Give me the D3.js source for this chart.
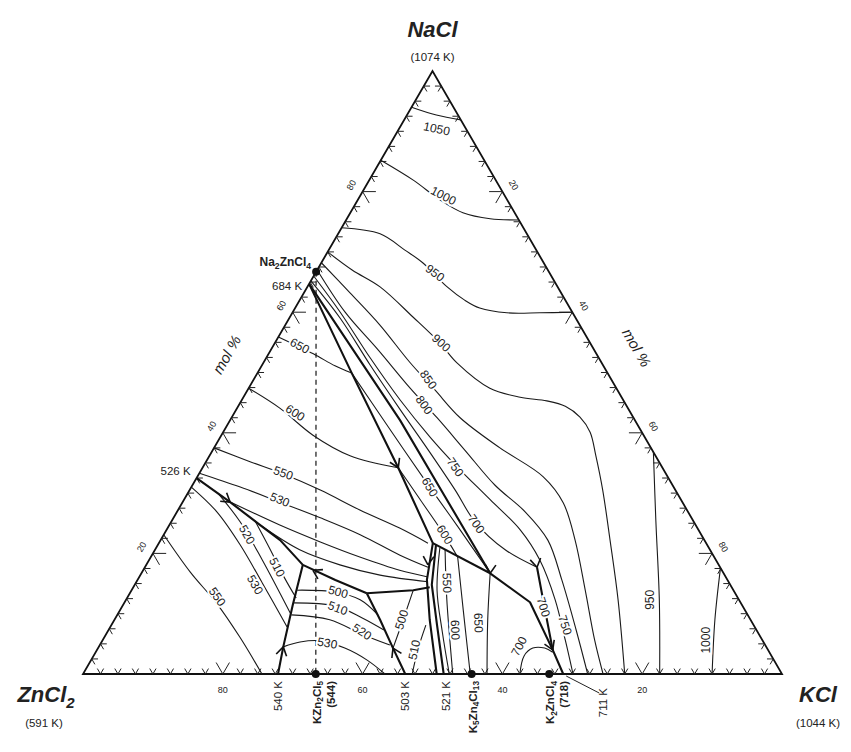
<!DOCTYPE html>
<html><head><meta charset="utf-8">
<script src="https://cdn.jsdelivr.net/npm/d3@7"></script>
<style>
body{margin:0;background:#fff}
svg text{font-family:"Liberation Sans",Arial,Helvetica,sans-serif;fill:#222}
</style></head><body>
<svg id="chart" width="851" height="752"></svg>
<script>
// Compositions are [NaCl mol%, KCl mol%]; ZnCl2 = 100 - NaCl - KCl.

// Liquidus isotherms (K)
const isotherms = [
  {T:1050, pts:[[94.0,0],[92.7,4.2],[91.9,8.1]]},
  {T:1000, pts:[[85.2,0],[81.9,6.3],[78.6,11.8],[76.5,16.1],[75.5,20.5],[75.3,24.7]]},
  {T:950,  pts:[[74.0,0],[73.0,6.0],[70.3,10.9],[68.2,14.5],[64.2,20.0],[62.0,23.6],[60.7,26.4],[59.9,30.7],[59.9,35.4],[60.0,40.0]]},
  {T:900,  pts:[[70.0,0],[67.0,5.0],[64.2,10.4],[59.2,17.6],[54.9,23.6],[51.6,27.7],[47.4,34.5],[45.9,39.6],[45.3,43.7],[44.4,46.8],[42.6,49.8],[40.1,52.5],[36.3,55.2],[30.5,59.1],[22.2,64.3],[12.3,70.4],[0,77.5]]},
  {T:850,  pts:[[68.2,0],[63.2,6.6],[57.9,13.5],[51.7,20.9],[47.1,26.8],[42.5,32.7],[37.5,40.9],[32.7,49.5],[28.4,54.5],[22.2,59.3],[13.9,64.9],[5.6,70.4],[0,74.4]]},
  {T:800,  pts:[[67.0,0],[60.0,7.5],[53.7,15.4],[47.4,23.1],[42.5,29.4],[37.1,36.1],[31.3,43.3],[26.9,49.8],[22.2,55.4],[15.6,60.7],[7.3,66.9],[0,72.2]]},
  {T:750,  pts:[[66.0,0],[60.0,6.8],[52.4,14.9],[45.4,22.7],[39.3,30.0],[34.7,35.9],[28.9,43.8],[23.9,50.6],[18.9,55.9],[12.3,61.4],[5.6,66.2],[0,70.1]]},
  {T:700,  pts:[[65.2,0],[59.0,7.3],[51.2,15.5],[43.8,23.5],[36.8,31.2],[30.5,38.0],[25.2,43.5],[20.6,50.1],[17.7,56.1]]},
  {T:950,  pts:[[36.8,63.2],[25.5,69.2],[12.3,76.3],[0,82.5]]},
  {T:1000, pts:[[17.6,82.4],[9.0,85.9],[0,90.0]]},
  // Na2ZnCl4 field
  {T:650,  pts:[[55.9,0],[53.1,6.4],[51.1,10.5],[49.9,13.5]]},
  {T:600,  pts:[[47.4,0],[44.1,6.1],[39.6,13.1],[36.2,20.1],[34.2,28.0]]},
  {T:550,  pts:[[37.5,0],[35.2,6.3],[33.2,12.0],[30.5,18.7],[27.2,26.0],[24.2,33.2],[21.7,38.5]]},
  {T:530,  pts:[[33.3,0],[31.0,7.0],[28.5,13.9],[25.9,21.0],[23.1,28.1],[19.7,35.5],[17.7,40.5]]},
  {T:520,  pts:[[28.4,7.1],[24.7,15.8],[21.9,23.0],[19.4,29.9],[17.2,36.7],[16.1,41.3]]},
  {T:510,  pts:[[24.7,13.0],[20.6,20.7],[18.1,27.7],[16.4,34.3],[15.3,41.7]]},
  // K2ZnCl4 valley between the two upper boundaries
  {T:650,  pts:[[49.9,13.5],[40.5,23.7],[31.0,34.1],[23.9,42.0],[16.7,49.9]]},
  {T:600,  pts:[[34.2,28.0],[28.9,33.8],[23.4,39.8],[19.4,43.9]]},
  // ZnCl2 field
  {T:550,  pts:[[23.1,0],[16.9,6.9],[11.6,13.4],[6.0,19.5],[0,25.6]]},
  {T:530,  pts:[[31.0,0],[26.9,5.7],[21.4,11.8],[15.1,18.1],[7.8,25.3]]},
  {T:520,  pts:[[30.0,4.3],[25.2,9.9],[18.9,16.2],[10.1,24.6]]},
  {T:510,  pts:[[25.4,11.9],[20.6,16.5],[15.9,20.9],[12.6,24.2]]},
  // KZn2Cl5 field
  {T:500,  pts:[[13.9,23.7],[13.6,29.3],[12.3,33.5],[9.8,37.3]]},
  {T:510,  pts:[[11.8,24.3],[11.3,30.4],[9.3,35.3],[7.3,39.4]]},
  {T:520,  pts:[[9.8,24.9],[9.0,30.8],[6.6,36.6],[4.8,41.5]]},
  {T:530,  pts:[[4.5,26.4],[5.3,28.4],[5.5,31.2],[4.3,35.3],[2.3,39.5],[0,43.2]]},
  // K5Zn4Cl13 / K2ZnCl4 region
  {T:500,  pts:[[13.9,40.3],[9.0,41.3],[4.3,42.2]]},
  {T:510,  pts:[[8.1,45.0],[4.0,45.9],[0,47.1]]},
  {T:550,  pts:[[20.6,41.5],[12.3,45.9],[0,52.9]]},
  {T:550,  pts:[[20.9,40.6],[13.9,43.7],[7.0,47.9],[0,52.4]]},
  {T:600,  pts:[[19.4,43.9],[10.6,49.1],[0,55.4]]},
  {T:650,  pts:[[16.7,49.9],[9.0,53.4],[0,57.8]]},
  {T:700,  pts:[[0,62.5],[3.0,61.6],[4.3,62.2],[4.3,63.9],[3.6,65.4]]}
];

// Univariant boundary lines between primary crystallisation fields
const boundaries = [
  [[64.7,0],[49.9,13.5],[34.2,28.0],[21.7,39.2]],
  [[64.7,0],[42.1,24.3],[29.4,37.1],[16.7,49.9],[11.9,58.0],[4.0,65.2],[0,68.7]],
  [[21.7,39.2],[16.7,49.9]],
  [[17.7,56.1],[10.6,60.8],[4.0,65.2]],
  [[32.5,0],[28.5,6.8],[24.7,13.0],[22.2,17.1],[18.1,22.4]],
  [[18.1,22.4],[11.4,24.3],[4.5,26.4],[0,27.9]],
  [[18.1,22.4],[15.6,28.3],[13.4,33.9]],
  [[13.4,33.9],[9.0,38.0],[4.3,42.2],[0,46.1]],
  [[13.4,33.9],[13.9,40.3],[14.4,42.4]],
  [[21.7,39.2],[15.6,41.4],[9.0,45.1],[0,50.6]],
  [[21.4,39.8],[14.8,42.5],[8.1,46.6],[0,51.6]]
];

// Arrows on boundaries: [tip, point ahead]
const arrows = [
  [[28.5,6.8],[24.7,13.0]],
  [[4.5,26.4],[11.4,24.3]],
  [[17.2,24.3],[18.1,22.4]],
  [[4.3,42.2],[13.4,33.9]],
  [[34.2,28.0],[21.7,39.2]],
  [[16.7,49.9],[9.0,53.4]],
  [[17.7,56.1],[10.6,60.8]],
  [[4.0,65.2],[0,68.7]],
  [[18.1,40.3],[15.6,41.4]]
];

// Isotherm label placement: text, composition, angle
const isoLabels = [
  ["1050",[90.4,5.4],12],["1000",[79.3,11.9],27],["950",[66.5,17.1],37],
  ["900",[54.9,23.8],42],["850",[48.8,25.0],55],["800",[44.6,26.5],55],
  ["750",[34.3,36.1],55],["650",[31.0,34.1],60],["600",[23.1,40.2],58],
  ["700",[24.9,43.8],55],["700",[11.1,60.3],72],["750",[8.1,64.9],72],
  ["700",[4.6,60.1],-62],["950",[12.3,75.0],-90],["1000",[5.6,86.3],-90],
  ["650",[54.4,3.8],28],["600",[43.3,8.7],33],["550",[33.3,12.0],20],
  ["530",[28.9,13.7],22],["520",[23.1,11.9],60],["510",[17.7,18.9],63],
  ["530",[14.8,17.2],60],["550",[12.8,12.8],55],["500",[13.6,29.7],15],
  ["510",[10.9,31.0],20],["520",[7.0,36.4],33],["530",[5.1,32.4],10],
  ["500",[9.0,41.1],-72],["510",[4.0,45.4],-78],["550",[15.1,44.5],88],
  ["600",[7.3,49.6],88],["650",[8.5,52.3],88]
];

// Compounds
const compounds = [
  {name:["Na","2","ZnCl","4"], comp:[66.7,0]},
  {name:["KZn","2","Cl","5"], comp:[0,33.3], tm:"(544)"},
  {name:["K","5","Zn","4","Cl","13"], comp:[0,55.6]},
  {name:["K","2","ZnCl","4"], comp:[0,66.7], tm:"(718)"}
];

// Binary invariant points on the ZnCl2-KCl edge (KCl mol%)
const edgePoints = [["540 K",27.9],["503 K",46.1],["521 K",52.0]];
const axisTicks = [20,40,60,80];

const sx = d3.scaleLinear().domain([0,100]).range([83,782]);
const sy = d3.scaleLinear().domain([0,100]).range([674,71]);
const P = c => [sx(c[1] + c[0]/2), sy(c[0])];

const svg = d3.select("#chart");
const straight = d3.line().x(d=>P(d)[0]).y(d=>P(d)[1]);
const smooth = d3.line().x(d=>P(d)[0]).y(d=>P(d)[1]).curve(d3.curveCatmullRom.alpha(0.5));

// triangle frame
svg.append("path")
  .attr("d", straight([[0,0],[0,100],[100,0],[0,0]]) + "Z")
  .attr("fill","none").attr("stroke","#111").attr("stroke-width",1.8).attr("stroke-linejoin","miter");

// edge ticks: short strokes along the two other grid directions
const tickSegs = [];
for (let i = 1; i < 40; i++) {
  const t = i * 2.5, d = (i % 8 === 0) ? 1.9 : 0.9;
  tickSegs.push([[0,t],[d,t]], [[0,t],[d,t-d]]);
  tickSegs.push([[t,0],[t,d]], [[t,0],[t-d,d]]);
  tickSegs.push([[t,100-t],[t,100-t-d]], [[t,100-t],[t-d,100-t]]);
}
svg.append("g").selectAll("path").data(tickSegs).join("path")
  .attr("d", straight).attr("stroke","#222").attr("stroke-width",1).attr("fill","none");

// tick labels
const tl = svg.append("g").attr("font-size",9).attr("fill","#444");
axisTicks.forEach(v => {
  const b = P([0,v]);
  tl.append("text").attr("x",b[0]).attr("y",b[1]+19).attr("text-anchor","middle").text(100-v);
  const l = P([v,0]);
  tl.append("text").attr("transform",`translate(${l[0]-13*0.866},${l[1]-13*0.5}) rotate(-60)`)
    .attr("text-anchor","middle").attr("dominant-baseline","central").text(v);
  const r = P([100-v,v]);
  tl.append("text").attr("transform",`translate(${r[0]+13*0.866},${r[1]-13*0.5}) rotate(60)`)
    .attr("text-anchor","middle").attr("dominant-baseline","central").text(v);
});

// "mol %" captions
{
  const l = P([50,0]);
  svg.append("text").attr("transform",`translate(${l[0]-36*0.866},${l[1]-36*0.5}) rotate(-60)`)
    .attr("text-anchor","middle").attr("dominant-baseline","central")
    .attr("font-size",15).attr("font-style","italic").text("mol %");
  const r = P([51,49]);
  svg.append("text").attr("transform",`translate(${r[0]+38*0.866},${r[1]-38*0.5}) rotate(60)`)
    .attr("text-anchor","middle").attr("dominant-baseline","central")
    .attr("font-size",15).attr("font-style","italic").text("mol %");
}

// dashed Na2ZnCl4 - KZn2Cl5 join
svg.append("path").attr("d", straight([compounds[0].comp, compounds[1].comp]))
  .attr("stroke","#444").attr("stroke-width",1.5).attr("stroke-dasharray","5,4").attr("fill","none");

// isotherms
svg.append("g").selectAll("path").data(isotherms).join("path")
  .attr("d", d => smooth(d.pts)).attr("fill","none").attr("stroke","#1a1a1a").attr("stroke-width",1.1);

// boundaries
svg.append("g").selectAll("path").data(boundaries).join("path")
  .attr("d", straight).attr("fill","none").attr("stroke","#111").attr("stroke-width",2.1)
  .attr("stroke-linejoin","round");

// arrows
const ag = svg.append("g").attr("stroke","#111").attr("stroke-width",1.6).attr("fill","none");
arrows.forEach(([tip, ahead]) => {
  const p = P(tip), q = P(ahead);
  let ux = q[0]-p[0], uy = q[1]-p[1]; const n = Math.hypot(ux,uy); ux/=n; uy/=n;
  const L = 10, a = 32*Math.PI/180;
  [a,-a].forEach(s => {
    const bx = -(ux*Math.cos(s) - uy*Math.sin(s)), by = -(ux*Math.sin(s) + uy*Math.cos(s));
    ag.append("line").attr("x1",p[0]).attr("y1",p[1]).attr("x2",p[0]+L*bx).attr("y2",p[1]+L*by);
  });
});

// isotherm labels
svg.append("g").selectAll("text").data(isoLabels).join("text")
  .attr("transform", d => { const p = P(d[1]); return `translate(${p[0]},${p[1]}) rotate(${d[2]})`; })
  .attr("text-anchor","middle").attr("dominant-baseline","central")
  .attr("font-size",12).attr("fill","#333")
  .attr("stroke","#fff").attr("stroke-width",4).attr("paint-order","stroke")
  .text(d => d[0]);

// compound dots
svg.append("g").selectAll("circle").data(compounds).join("circle")
  .attr("cx", d => P(d.comp)[0]).attr("cy", d => P(d.comp)[1]).attr("r",4).attr("fill","#111");

function formula(sel, parts, size) {
  parts.forEach((s, i) => {
    const sub = i % 2 === 1;
    sel.append("tspan").attr("font-size", sub ? size*0.72 : size)
      .attr("dy", sub ? size*0.3 : (i > 0 ? -size*0.3 : 0)).text(s);
  });
}

// Na2ZnCl4 label
{
  const p = P(compounds[0].comp);
  const t = svg.append("text").attr("x",p[0]-5).attr("y",p[1]-6).attr("text-anchor","end")
    .attr("font-weight","bold").attr("font-size",12);
  formula(t, compounds[0].name, 12);
  svg.append("text").attr("x",p[0]-14).attr("y",p[1]+18).attr("text-anchor","end")
    .attr("font-size",11.5).attr("fill","#333").text("684 K");
  const e = P([32.5,0]);
  svg.append("text").attr("x",e[0]-6).attr("y",e[1]-3).attr("text-anchor","end")
    .attr("font-size",11.5).attr("fill","#333").text("526 K");
}

// vertical labels under the ZnCl2-KCl edge
function vlabel(x, text, bold, parts) {
  const t = svg.append("text").attr("transform",`translate(${x},681) rotate(-90)`)
    .attr("text-anchor","end").attr("dominant-baseline","central")
    .attr("font-size",11.5).attr("font-weight", bold ? "bold" : "normal").attr("fill", bold ? "#111" : "#333");
  if (parts) formula(t, parts, 11.5); else t.text(text);
}
edgePoints.forEach(([s,k]) => vlabel(P([0,k])[0], s, false));
compounds.slice(1).forEach(c => {
  const x = P(c.comp)[0];
  vlabel(x + 1, null, true, c.name);
  if (c.tm) vlabel(x + 15, c.tm, true);
});
{
  const e = P([0,68.7]);
  svg.append("line").attr("x1",e[0]+3).attr("y1",e[1]+2).attr("x2",e[0]+36).attr("y2",e[1]+19)
    .attr("stroke","#222").attr("stroke-width",1);
  svg.append("text").attr("transform",`translate(${e[0]+40},688) rotate(-90)`)
    .attr("text-anchor","end").attr("dominant-baseline","central")
    .attr("font-size",11.5).attr("fill","#333").text("711 K");
}

// component labels
{
  const top = P([100,0]);
  svg.append("text").attr("x",top[0]).attr("y",37).attr("text-anchor","middle")
    .attr("font-size",22).attr("font-weight","bold").attr("font-style","italic").attr("fill","#111").text("NaCl");
  svg.append("text").attr("x",top[0]).attr("y",61).attr("text-anchor","middle")
    .attr("font-size",11.5).attr("fill","#333").text("(1074 K)");
  const z = svg.append("text").attr("x",46).attr("y",702).attr("text-anchor","middle")
    .attr("font-size",22).attr("font-weight","bold").attr("font-style","italic").attr("fill","#111");
  z.append("tspan").text("ZnCl");
  z.append("tspan").attr("font-size",15).attr("dy",6).text("2");
  svg.append("text").attr("x",44).attr("y",727).attr("text-anchor","middle")
    .attr("font-size",11.5).attr("fill","#333").text("(591 K)");
  svg.append("text").attr("x",818).attr("y",702).attr("text-anchor","middle")
    .attr("font-size",22).attr("font-weight","bold").attr("font-style","italic").attr("fill","#111").text("KCl");
  svg.append("text").attr("x",818).attr("y",727).attr("text-anchor","middle")
    .attr("font-size",11.5).attr("fill","#333").text("(1044 K)");
}
</script>
</body></html>
